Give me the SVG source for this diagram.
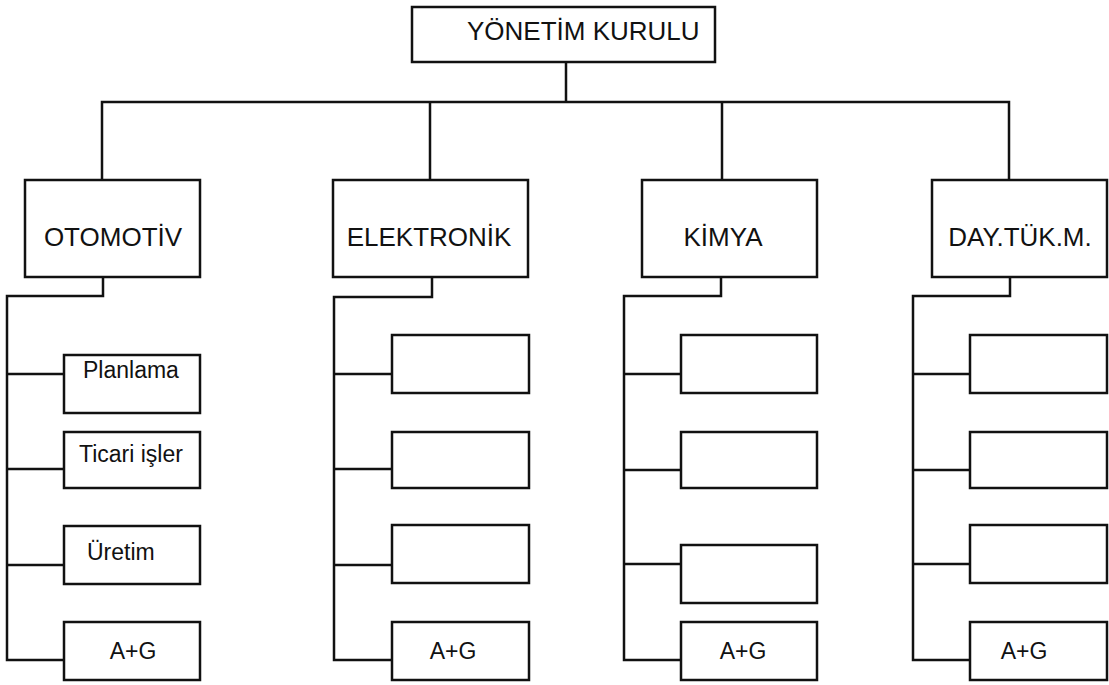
<svg xmlns="http://www.w3.org/2000/svg" width="1109" height="685" viewBox="0 0 1109 685">
<style>
.box{fill:#fff;stroke:#111;stroke-width:2.5}
.ln{fill:none;stroke:#111;stroke-width:2.5;stroke-linejoin:miter;stroke-linecap:square}
.big{font-family:"Liberation Sans",Arial,sans-serif;font-size:26px;fill:#111}
.sm{font-family:"Liberation Sans",Arial,sans-serif;font-size:23px;fill:#111}
</style>
<rect width="1109" height="685" fill="#fff"/>
<g id="connectors" class="ln">
<path d="M566 62V102M102 102H1009M102 102V180M430 102V180M722 102V180M1009 102V180"/>
<path d="M103 277V296H7V660H64M7 374H64M7 469H64M7 565H64"/>
<path d="M432 277V297H334V660H392M334 374H392M334 469H392M334 565H392"/>
<path d="M721 277V296H624V660H681M624 374H681M624 470H681M624 564H681"/>
<path d="M1010 277V296H913V660H970M913 374H970M913 470H970M913 564H970"/>
</g>
<g id="yonetim"><rect class="box" x="412" y="7" width="303" height="55"/><text class="big" x="467" y="40">YÖNETİM KURULU</text></g>
<g id="otomotiv"><rect class="box" x="25" y="180" width="175" height="97"/><text class="big" x="113" y="246" text-anchor="middle">OTOMOTİV</text></g>
<g id="elektronik"><rect class="box" x="333" y="180" width="195" height="97"/><text class="big" x="429" y="246" text-anchor="middle">ELEKTRONİK</text></g>
<g id="kimya"><rect class="box" x="642" y="180" width="175" height="97"/><text class="big" x="723" y="246" text-anchor="middle">KİMYA</text></g>
<g id="daytuk"><rect class="box" x="932" y="180" width="175" height="97"/><text class="big" x="1020" y="246" text-anchor="middle">DAY.TÜK.M.</text></g>
<g id="oto-planlama"><rect class="box" x="64" y="355" width="136" height="58"/><text class="sm" x="83" y="378">Planlama</text></g>
<g id="oto-ticari"><rect class="box" x="64" y="432" width="136" height="56"/><text class="sm" x="79" y="462">Ticari işler</text></g>
<g id="oto-uretim"><rect class="box" x="64" y="526" width="136" height="58"/><text class="sm" x="87" y="560">Üretim</text></g>
<g id="oto-ag"><rect class="box" x="64" y="622" width="136" height="58"/><text class="sm" x="133" y="659" text-anchor="middle">A+G</text></g>
<g id="ele-1"><rect class="box" x="392" y="335" width="137" height="58"/></g>
<g id="ele-2"><rect class="box" x="392" y="432" width="137" height="56"/></g>
<g id="ele-3"><rect class="box" x="392" y="525" width="137" height="58"/></g>
<g id="ele-ag"><rect class="box" x="392" y="622" width="137" height="58"/><text class="sm" x="453" y="659" text-anchor="middle">A+G</text></g>
<g id="kim-1"><rect class="box" x="681" y="335" width="136" height="58"/></g>
<g id="kim-2"><rect class="box" x="681" y="432" width="136" height="56"/></g>
<g id="kim-3"><rect class="box" x="681" y="545" width="136" height="58"/></g>
<g id="kim-ag"><rect class="box" x="681" y="622" width="136" height="58"/><text class="sm" x="743" y="659" text-anchor="middle">A+G</text></g>
<g id="day-1"><rect class="box" x="970" y="335" width="137" height="58"/></g>
<g id="day-2"><rect class="box" x="970" y="432" width="137" height="56"/></g>
<g id="day-3"><rect class="box" x="970" y="525" width="137" height="58"/></g>
<g id="day-ag"><rect class="box" x="970" y="622" width="137" height="58"/><text class="sm" x="1024" y="659" text-anchor="middle">A+G</text></g>
</svg>
